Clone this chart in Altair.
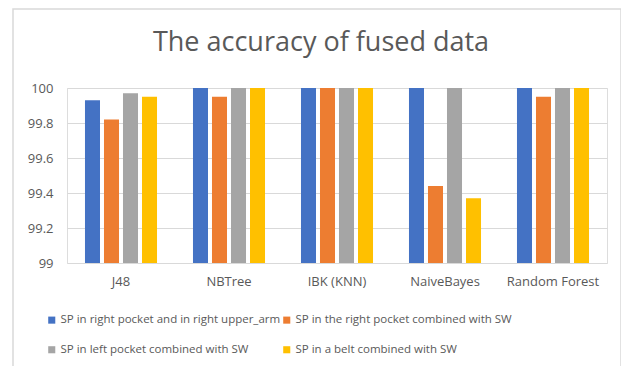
import altair as alt
import pandas as pd

classifiers = ["J48", "NBTree", "IBK (KNN)", "NaiveBayes", "Random Forest"]
series = [
    "SP in right pocket and in right upper_arm",
    "SP in the right pocket combined with SW",
    "SP in left pocket combined with SW",
    "SP in a belt combined with SW",
]
colors = ["#4472C4", "#ED7D31", "#A5A5A5", "#FFC000"]
values = {
    series[0]: [99.93, 100, 100, 100, 100],
    series[1]: [99.82, 99.95, 100, 99.44, 99.95],
    series[2]: [99.97, 100, 100, 100, 100],
    series[3]: [99.95, 100, 100, 99.37, 100],
}
y_ticks = [99, 99.2, 99.4, 99.6, 99.8, 100]
title_text = "The accuracy of fused data"

rows = []
for s in series:
    for c, v in zip(classifiers, values[s]):
        rows.append({"Classifier": c, "Series": s, "Accuracy": v})
df = pd.DataFrame(rows)

# legend is filled column by column: order entries so rows read as in the reference
legend_order = [series[0], series[2], series[1], series[3]]
legend_colors = [colors[0], colors[2], colors[1], colors[3]]

FONT = "Open Sans"
TXT = "#595959"

bars = alt.Chart(df).mark_bar().encode(
    x=alt.X("Classifier:N", sort=classifiers,
            scale=alt.Scale(paddingInner=0.333, paddingOuter=0.1665),
            axis=alt.Axis(title=None, labelAngle=0, domain=False, ticks=False,
                          labelPadding=12, labelFontSize=13, labelColor=TXT,
                          labelFont=FONT)),
    xOffset=alt.XOffset("Series:N", sort=series,
                        scale=alt.Scale(paddingInner=0.21, paddingOuter=0)),
    y=alt.Y("Accuracy:Q", scale=alt.Scale(domain=[99, 100], clamp=True, zero=False),
            axis=alt.Axis(title=None, values=y_ticks, format="~g", domain=False,
                          ticks=False, labelPadding=14, labelFontSize=13,
                          labelColor=TXT, labelFont=FONT, gridColor="#D9D9D9")),
    y2=alt.datum(99),
    color=alt.Color("Series:N",
                    scale=alt.Scale(domain=legend_order, range=legend_colors),
                    legend=alt.Legend(title=None, orient="none", legendX=-21, legendY=226,
                                      columns=2, symbolType="square", symbolSize=50,
                                      symbolStrokeWidth=0, labelFontSize=11.5,
                                      labelColor=TXT, labelFont=FONT, labelLimit=400,
                                      rowPadding=17, columnPadding=0, symbolOffset=0,
                                      labelOffset=3)),
)

one = pd.DataFrame({"a": [0]})

frame = alt.Chart(one).mark_rect(
    fill=None, stroke="#D9D9D9", strokeWidth=1.5, clip=False
).encode(
    x=alt.value(-54), x2=alt.value(554), y=alt.value(-79), y2=alt.value(285)
)

title = alt.Chart(one).mark_text(
    font=FONT, fontSize=27, color=TXT, align="center", baseline="middle"
).encode(
    text=alt.value(title_text), x=alt.value(254), y=alt.value(-45)
)

chart = alt.layer(frame, title, bars).properties(
    width=540, height=175,
    autosize=alt.AutoSizeParams(type="none"),
    padding={"left": 59, "top": 80, "right": 14, "bottom": 103},
).configure_view(stroke=None).configure(background="white")

chart.save("out.html", embed_options={"renderer": "svg", "actions": False})
